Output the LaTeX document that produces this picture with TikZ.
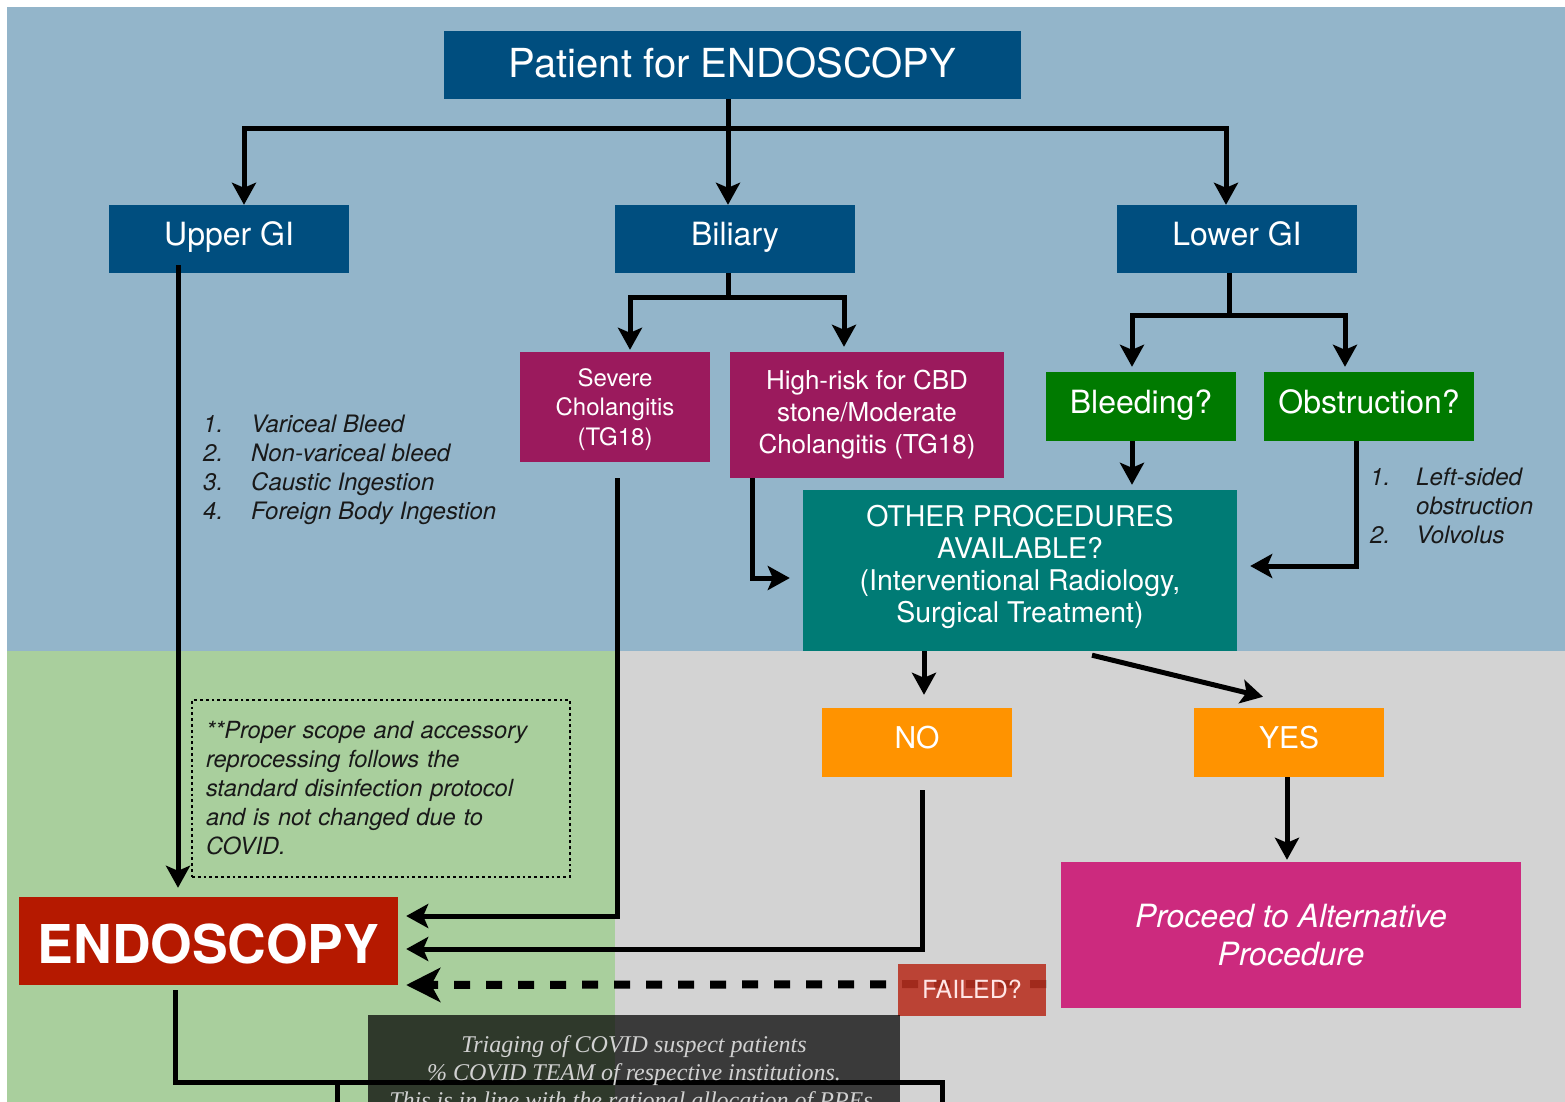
\documentclass[tikz,border=0pt]{standalone}
\usepackage{fontspec}
\setmainfont{TeX Gyre Heros}
\newfontfamily\triageserif{Liberation Serif}
\usetikzlibrary{arrows.meta,positioning}

\definecolor{skyfield}{HTML}{93B5CA}
\definecolor{mintfield}{HTML}{A9CF9D}
\definecolor{greyfield}{HTML}{D3D3D3}
\definecolor{navyfill}{HTML}{004E7F}
\definecolor{plumfill}{HTML}{9B1A5D}
\definecolor{leaffill}{HTML}{007A00}
\definecolor{tealfill}{HTML}{007B75}
\definecolor{amberfill}{HTML}{FF9300}
\definecolor{rosefill}{HTML}{CC2A7E}
\definecolor{brickfill}{HTML}{B51900}
\definecolor{failfill}{HTML}{B83020}

\pgfdeclarelayer{back}
\pgfdeclarelayer{wires}
\pgfsetlayers{back,wires,main}

\tikzset{
  block/.style={inner sep=0pt, align=center, text=white},
  navyblock/.style={block, fill=navyfill, minimum width=240pt, minimum height=68pt,
    text height=23pt, text depth=11pt, font=\fontsize{32}{38}\selectfont},
  plumblock/.style={block, fill=plumfill},
  leafblock/.style={block, fill=leaffill, minimum height=69pt,
    text height=23pt, text depth=10pt, font=\fontsize{32}{38}\selectfont},
  amberblock/.style={block, fill=amberfill, minimum width=190pt, minimum height=69pt,
    text height=22pt, text depth=11pt, font=\fontsize{30}{36}\selectfont},
  listtext/.style={inner sep=0pt, text=black!90, font=\fontsize{24}{29}\selectfont\itshape},
  conn/.style={line width=5pt},
  arr/.style={conn, -{Stealth[length=22pt,width=24pt,inset=5pt]}},
  dasharr/.style={line width=8pt, dash pattern=on 16pt off 16pt,
    -{Stealth[length=34pt,width=34pt,inset=9pt]}},
}

\begin{document}
\begin{tikzpicture}[x=1pt,y=-1pt]
\useasboundingbox (0,0) rectangle (1565,1102);
\clip (0,0) rectangle (1565,1102);

\begin{pgfonlayer}{back}
  \fill[white] (0,0) rectangle (1565,1102);
  \fill[skyfield] (7,7) rectangle (1565,651);
  \fill[mintfield] (7,651) rectangle (615,1102);
  \fill[greyfield] (615,651) rectangle (1565,1102);
\end{pgfonlayer}

% top row
\node[navyblock, minimum width=577pt, text height=29pt, text depth=3pt,
  font=\fontsize{40}{48}\selectfont] (patient) at (732.5,65) {Patient for ENDOSCOPY};
\node[navyblock] (upper) at (229,239) {Upper GI};
\node[navyblock] (biliary) at (735,239) {Biliary};
\node[navyblock] (lower) at (1237,239) {Lower GI};

% biliary and lower GI
\node[plumblock, minimum width=190pt, minimum height=110pt, text height=78pt, text depth=2pt,
  font=\fontsize{24}{29.5}\selectfont] (severe) at (615,407) {Severe\\Cholangitis\\(TG18)};
\node[plumblock, minimum width=274pt, minimum height=126pt, text height=80pt, text depth=4pt,
  font=\fontsize{26}{32}\selectfont] (highrisk) at (867,415) {High-risk for CBD\\stone/Moderate\\Cholangitis (TG18)};
\node[leafblock, minimum width=190pt] (bleeding) at (1141,406.5) {Bleeding?};
\node[leafblock, minimum width=210pt] (obstruction) at (1369,406.5) {Obstruction?};
\node[block, fill=tealfill, minimum width=434pt, minimum height=161pt, text height=105pt, text depth=2pt,
  font=\fontsize{28.5}{32}\selectfont] (other) at (1020,570.5)
  {OTHER PROCEDURES\\AVAILABLE?\\(Interventional Radiology,\\Surgical Treatment)};

\node[listtext, anchor=base west] (upperlist) at (203,432)
  {\begin{tabular}[t]{@{}p{48pt}@{}l@{}}1.&Variceal Bleed\\2.&Non-variceal bleed\\
   3.&Caustic Ingestion\\4.&Foreign Body Ingestion\end{tabular}};
\node[listtext, anchor=base west] (obstlist) at (1370,485)
  {\begin{tabular}[t]{@{}p{46pt}@{}l@{}}1.&Left-sided\\&obstruction\\2.&Volvolus\end{tabular}};

% lower half
\node[amberblock] (no) at (917,742.5) {NO};
\node[amberblock] (yes) at (1289,742.5) {YES};
\node[block, fill=rosefill, minimum width=460pt, minimum height=146pt, text height=62pt, text depth=2pt,
  font=\fontsize{32}{38}\selectfont\itshape] (proceed) at (1291,935) {Proceed to Alternative\\Procedure};
\node[block, fill=brickfill, minimum width=379pt, minimum height=88pt, text height=44pt, text depth=0pt,
  font=\fontsize{53.5}{60}\selectfont\bfseries] (endo) at (208.5,941) {ENDOSCOPY};
\node[draw=black, line width=2.8pt, dash pattern=on 2.8pt off 3pt, inner xsep=14pt, inner ysep=0pt,
  text width=350pt, align=left, minimum height=177pt, text height=20pt, text depth=121pt,
  text=black!90, font=\fontsize{23.6}{29}\selectfont\itshape] (note) at (381,788.5)
  {**Proper scope and accessory\\reprocessing follows the\\standard disinfection protocol\\and is not changed due to\\COVID.};
\node[block, fill=failfill, fill opacity=0.88, text opacity=1, text=white!90!red,
  minimum width=148pt, minimum height=52pt, text height=18pt, text depth=2pt,
  font=\fontsize{25}{30}\selectfont] (failed) at (972,990) {FAILED?};

% connectors
\coordinate (split) at (728,129);
\draw[conn] (patient.south -| split) -- (split);
\draw[arr] (split) -- (biliary.north -| split);
\draw[arr] (split) -| ([xshift=15pt]upper.north);
\draw[arr] (split) -| ([xshift=-11pt]lower.north);

\coordinate (bsplit) at (728,297);
\draw[conn] (biliary.south -| bsplit) -- (bsplit);
\draw[arr] (bsplit) -| ([xshift=15pt,yshift=2pt]severe.north);
\draw[arr] (bsplit) -| ([xshift=-23pt,yshift=5pt]highrisk.north);

\coordinate (lsplit) at (1229,315);
\draw[conn] (lower.south -| lsplit) -- (lsplit);
\draw[arr] (lsplit) -| ([xshift=-9pt,yshift=5pt]bleeding.north);
\draw[arr] (lsplit) -| ([xshift=-24pt,yshift=5pt]obstruction.north);

\draw[arr] ([xshift=-9pt]bleeding.south) -- ([xshift=-9pt,yshift=5pt]bleeding.south |- other.north);
\draw[arr] ([xshift=-115pt]highrisk.south) |- ([xshift=-13pt,yshift=-7.5pt]other.west);
\draw[arr] ([xshift=-13pt]obstruction.south) |- ([xshift=13pt,yshift=4.5pt]other.east);

\draw[arr] ([xshift=-51pt,yshift=8pt]upper.south) -- ([xshift=-30.5pt,yshift=9pt]endo.north);
\draw[arr] ([xshift=2pt,yshift=-16pt]severe.south) |- ([xshift=8pt,yshift=25pt]endo.east);

\draw[arr] ([xshift=-96pt]other.south) -- ([xshift=7pt,yshift=13pt]no.north);
\draw[arr] ([xshift=72pt,yshift=-4pt]other.south) -- ([xshift=-26pt,yshift=11pt]yes.north);
\draw[arr] ([xshift=5pt,yshift=-13pt]no.south) |- ([xshift=8pt,yshift=-8pt]endo.east);
\draw[arr] ([xshift=-2pt]yes.south) -- ([xshift=-2pt,yshift=2pt]yes.south |- proceed.north);

\begin{pgfonlayer}{wires}
  \draw[dasharr] ([yshift=6pt]failed.east) -- ([xshift=8pt,yshift=-44pt]endo.east);
\end{pgfonlayer}

% onward branches below the page edge
\coordinate (fork) at (175,1082);
\coordinate (forkleft) at (337,1082);
\coordinate (forkright) at (942,1082);
\draw[conn] ([yshift=-5pt]endo.south -| fork) -- (fork) -- (forkright) -- ++(0,40);
\draw[conn] (forkleft) -- ++(0,40);

\node[fill=black, fill opacity=0.72, text opacity=1, text=black!18, inner sep=0pt, align=center,
  minimum width=532pt, minimum height=100pt, text height=88pt, text depth=2pt,
  font=\triageserif\itshape\fontsize{24}{28}\selectfont] (triage) at (634,1065)
  {Triaging of COVID suspect patients\\\% COVID TEAM of respective institutions.\\
   This is in line with the rational allocation of PPEs.};
\end{tikzpicture}
\end{document}
